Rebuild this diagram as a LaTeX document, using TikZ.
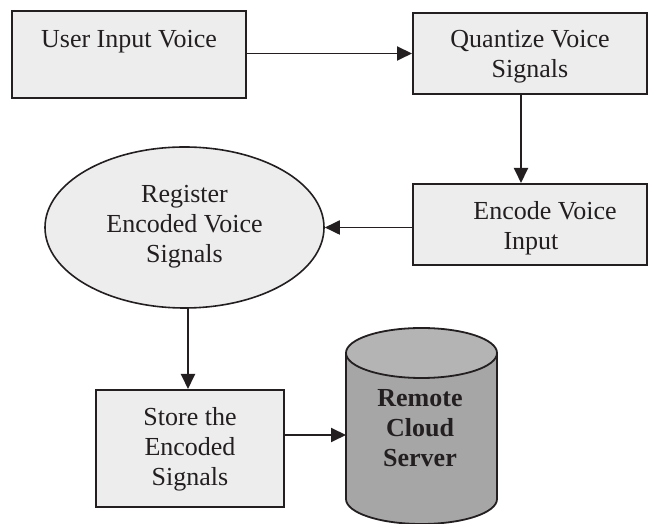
\documentclass[tikz,border=0pt]{standalone}
\usepackage{fontspec}
\setmainfont{Liberation Serif}
\usetikzlibrary{arrows.meta,shapes.geometric}
\definecolor{ink}{HTML}{231F20}
\definecolor{boxfill}{HTML}{EDEDED}
\definecolor{cylbody}{HTML}{A6A6A6}
\definecolor{cyltop}{HTML}{B4B4B4}
\tikzset{
  stepbox/.style={draw=ink, line width=2pt, fill=boxfill, rectangle, inner sep=0pt},
  ovalbox/.style={draw=ink, line width=1.6pt, fill=boxfill, ellipse, inner sep=0pt},
  label text/.style={font=\fontsize{26}{30}\selectfont, text=ink, align=center, inner sep=0pt, anchor=base},
  flow/.style={draw=ink, line width=1.9pt, -{Triangle[length=15pt, width=14pt]}},
}
\begin{document}
\begin{tikzpicture}[x=1pt, y=1pt]
  \useasboundingbox (0,0) rectangle (650,524);

  % process boxes
  \node[stepbox, minimum width=234pt, minimum height=87pt] (input) at (129,469.5) {};
  \node[stepbox, minimum width=234pt, minimum height=81pt] (quant) at (530,470.5) {};
  \node[stepbox, minimum width=234pt, minimum height=81pt] (encode) at (530,299.5) {};
  \node[ovalbox, minimum width=279pt, minimum height=161pt] (register) at (184.5,296.5) {};
  \node[stepbox, minimum width=188pt, minimum height=117pt] (store) at (190,75.5) {};

  % cloud server drawn as a cylinder
  \node[inner sep=0pt, minimum width=151pt, minimum height=196pt] (server) at (421.5,98) {};
  \fill[cylbody] (346,171) -- (346,25) arc[start angle=180, end angle=360, x radius=75.5pt, y radius=25pt] -- (497,171) -- cycle;
  \draw[ink, line width=1.8pt] (346,171) -- (346,25) arc[start angle=180, end angle=360, x radius=75.5pt, y radius=25pt] -- (497,171);
  \draw[ink, line width=1.8pt, fill=cyltop] (421.5,171) ellipse [x radius=75.5pt, y radius=25pt];
  \coordinate (serverin) at (346,89);

  % labels (anchored at the baseline of their last line)
  \node[label text] (inputtxt) at (129,476) {User Input Voice};
  \node[label text] (quanttxt) at (530,446) {Quantize Voice\\Signals};
  \node[label text] (encodetxt) at (531,274) {\hspace*{28pt}Encode Voice\\Input};
  \node[label text] (registertxt) at (184.5,261) {Register\\Encoded Voice\\Signals};
  \node[label text] (storetxt) at (190,38) {Store the\\Encoded\\Signals};
  \node[label text, font=\fontsize{26}{30}\selectfont\bfseries] (servertxt) at (420,57) {Remote\\Cloud\\Server};

  % connectors
  \draw[flow] (input.east |- quant.west) -- (quant.west);
  \draw[flow] ([xshift=-9pt]quant.south) -- ([xshift=-9pt]encode.north);
  \draw[flow] (encode.west |- register.east) -- (register.east);
  \draw[flow] ([xshift=3.5pt]register.south) -- ([xshift=3.5pt]register.south |- store.north);
  \draw[flow] (store.east |- serverin) -- (serverin);
\end{tikzpicture}
\end{document}
